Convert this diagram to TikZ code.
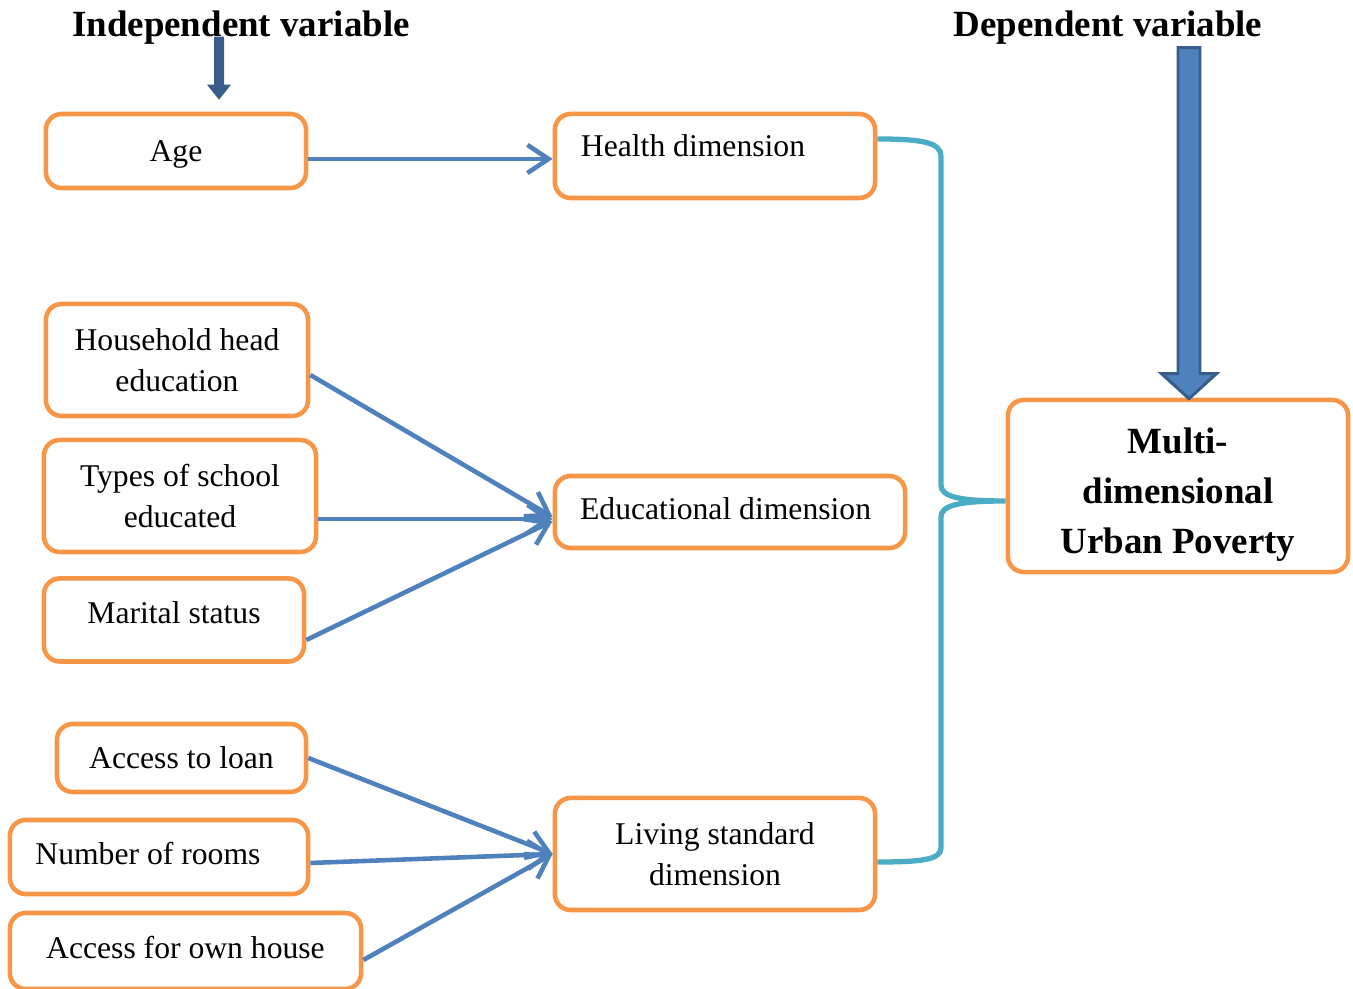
\documentclass[tikz,border=0pt]{standalone}
\usepackage{fontspec}
\setmainfont{Liberation Serif}
\usetikzlibrary{arrows.meta,calc}
\definecolor{boxorange}{HTML}{F79646}
\definecolor{linkblue}{HTML}{4F81BD}
\definecolor{bracecol}{HTML}{4BACC6}
\definecolor{darkblue}{HTML}{385D8A}
\newcommand{\shifttext}[2]{\raisebox{#1}[\height][\depth]{#2}}
\begin{document}
\begin{tikzpicture}[x=0.01cm,y=-0.01cm,
  box/.style={draw=boxorange,line width=1.3pt,rounded corners=4.5pt,align=center,inner sep=0pt,fill=white,font=\fontsize{9}{11.5}\selectfont},
  conn/.style={draw=linkblue,line width=1.3pt,-{Straight Barb[length=6pt,width=8pt]}},
  titletext/.style={font=\fontsize{10.5}{12}\selectfont\bfseries}]
\useasboundingbox (0,0) rectangle (1353,989);

% titles
\node[titletext] (indep) at (241,28) {Independent variable};
\node[titletext] (dep) at (1108,28) {Dependent variable};

% left boxes
\node[box,minimum width=2.60cm,minimum height=0.74cm] (age) at (176,151) {\shifttext{-1.1pt}{Age}};
\node[box,minimum width=2.62cm,minimum height=1.12cm] (hh) at (177,360) {Household head\\education};
\node[box,minimum width=2.72cm,minimum height=1.12cm] (types) at (180,496) {Types of school\\educated};
\node[box,minimum width=2.60cm,minimum height=0.83cm] (marital) at (174,620) {\shifttext{2pt}{Marital status}};
\node[box,minimum width=2.49cm,minimum height=0.68cm] (loan) at (181.5,758) {Access to loan};
\node[box,minimum width=2.98cm,minimum height=0.74cm] (rooms) at (159,857) {\shifttext{0.9pt}{Number of rooms}\hspace*{6.3pt}};
\node[box,minimum width=3.51cm,minimum height=0.76cm] (own) at (185.5,951) {\shifttext{1.1pt}{Access for own house}};

% middle boxes
\node[box,minimum width=3.20cm,minimum height=0.84cm] (health) at (715,156) {\raisebox{5.7pt}{Health dimension}\hspace*{12.5pt}};
\node[box,minimum width=3.50cm,minimum height=0.72cm] (edu) at (730,512) {\shifttext{0.9pt}{Educational dimension}\hspace*{2.5pt}};
\node[box,minimum width=3.20cm,minimum height=1.12cm] (living) at (715,854) {Living standard\\dimension};

% right box
\node[box,minimum width=3.40cm,minimum height=1.72cm,font=\fontsize{10.5}{14.2}\selectfont\bfseries] (multi) at (1178,486) {\rule{0pt}{12.3pt}Multi-\\dimensional\\Urban Poverty};

% connectors
\draw[conn] (age.east |- {$(health.west)+(0,3)$}) -- ($(health.west)+(0,3)$);
\draw[conn] ($(hh.east)+(0,15)$) -- ($(edu.west)+(0,5)$);
\draw[conn] (types.east |- {$(edu.west)+(0,7)$}) -- ($(edu.west)+(0,7)$);
\draw[conn] ($(marital.east)+(0,20)$) -- ($(edu.west)+(0,9)$);
\draw[conn] (loan.east) -- (living.west);
\draw[conn] ($(rooms.east)+(0,6)$) -- (living.west);
\draw[conn] ($(own.east)+(0,9)$) -- (living.west);

% brace
\coordinate (bt) at ($(health.east)+(0,-17)$);
\coordinate (bb) at ($(living.east)+(0,8)$);
\coordinate (btip) at ($(multi.west)+(0,15)$);
\draw[bracecol,line width=1.5pt]
  (bt) .. controls (920,139) and (941,142) .. (941,156)
  -- (941,485) .. controls (941,497) and (960,501) .. (btip)
  .. controls (960,501) and (941,505) .. (941,517)
  -- (941,848) .. controls (941,860) and (920,862) .. (bb);

% small top-left arrow
\coordinate (sa) at ($(age.north)+(43,-12)$);
\fill[darkblue] (sa) -- ++(-12,-15) -- ++(7,0) -- ++(0,-48) -- ++(10,0) -- ++(0,48) -- ++(7,0) -- cycle;

% big right arrow
\coordinate (ba) at ($(multi.north)+(11,1)$);
\filldraw[fill=linkblue,draw=darkblue,line width=0.85pt,line join=miter]
  (ba) -- ++(-27.5,-25) -- ++(16.5,0) -- ++(0,-326) -- ++(22,0) -- ++(0,326) -- ++(16.5,0) -- cycle;
\end{tikzpicture}
\end{document}
